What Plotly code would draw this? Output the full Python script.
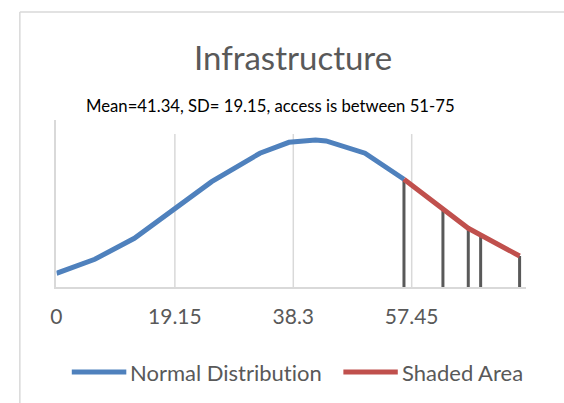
import plotly.graph_objects as go

# Normal curve sampled at the score points (density values)
normal_x = [0, 6.2, 12.6, 19.0, 25.1, 32.9, 37.6, 41.9, 43.6, 49.9, 56.2]
normal_y = [0.00194, 0.00393, 0.00690, 0.01091, 0.01492, 0.01895,
            0.02050, 0.02083, 0.02069, 0.01895, 0.01526]

# Shaded tail region
shade_x = [56.2, 62.5, 66.6, 68.6, 74.9]
shade_y = [0.01526, 0.01115, 0.00832, 0.00737, 0.00439]

tick_vals = [0, 19.15, 38.3, 57.45]
tick_text = ["0", "19.15", "38.3", "57.45"]

title_text = "Infrastructure"
subtitle_text = "Mean=41.34, SD= 19.15, access is between 51-75"
series_names = ["Normal Distribution", "Shaded Area"]

BLUE = "#4F81BD"
RED = "#C0504D"
DROP = "#595959"
GRID = "#D9D9D9"
TEXT = "#595959"
FONT = "Lato"

W, H = 564, 403
x_range = [0, 76]
y_range = [0, 0.02366]
x_dom = [51 / W, (51 + 76 * 6.25) / W]
y_dom = [(H - 287) / H, (H - 120) / H]

fig = go.Figure()

# vertical drop lines under the shaded points
drop_x, drop_y = [], []
for xv, yv in zip(shade_x, shade_y):
    drop_x += [xv, xv, None]
    drop_y += [0, yv, None]
fig.add_trace(go.Scatter(x=drop_x, y=drop_y, mode="lines",
                         line=dict(color=DROP, width=3),
                         showlegend=False, hoverinfo="skip"))

fig.add_trace(go.Scatter(x=normal_x, y=normal_y, mode="lines",
                         name=series_names[0],
                         line=dict(color=BLUE, width=5)))
fig.add_trace(go.Scatter(x=shade_x, y=shade_y, mode="lines",
                         name=series_names[1],
                         line=dict(color=RED, width=5)))

shapes = []
# vertical gridlines at the tick positions
for tv in tick_vals[1:]:
    shapes.append(dict(type="line", xref="x", yref="y domain",
                       x0=tv, x1=tv, y0=0, y1=0.916,
                       line=dict(color=GRID, width=1.5), layer="below"))

# chart-area frame (top and left edges)
fx, fy = 14 / W, (H - 12) / H
shapes.append(dict(type="line", xref="paper", yref="paper",
                   x0=fx, x1=1, y0=fy, y1=fy,
                   line=dict(color=GRID, width=1.5)))
shapes.append(dict(type="line", xref="paper", yref="paper",
                   x0=fx, x1=fx, y0=0, y1=fy,
                   line=dict(color=GRID, width=1.5)))

# legend keys
leg_y = (H - 372) / H
legend_items = [
    (66.5, 121.6, 123, BLUE, series_names[0]),
    (341, 396, 398, RED, series_names[1]),
]
annotations = []
for x0, x1, tx, col, name in legend_items:
    shapes.append(dict(type="line", xref="paper", yref="paper",
                       x0=x0 / W, x1=x1 / W, y0=leg_y, y1=leg_y,
                       line=dict(color=col, width=5)))
    annotations.append(dict(
        text='<span style="font-variant-ligatures:none">' + name + "</span>",
        xref="paper", yref="paper", x=tx / W, y=leg_y,
        xanchor="left", yanchor="middle", showarrow=False,
        font=dict(family=FONT, size=22, color=TEXT)))

annotations.append(dict(text=title_text, xref="paper", yref="paper",
                        x=290 / W, y=(H - 57) / H, xanchor="center",
                        yanchor="middle", showarrow=False,
                        font=dict(family=FONT, size=33, color=TEXT)))
annotations.append(dict(text=subtitle_text, xref="paper", yref="paper",
                        x=267 / W, y=(H - 106) / H, xanchor="center",
                        yanchor="middle", showarrow=False,
                        font=dict(family=FONT, size=16.7, color="#000000")))

fig.update_layout(
    width=W, height=H,
    margin=dict(l=0, r=0, t=0, b=0),
    paper_bgcolor="white", plot_bgcolor="white",
    showlegend=False,
    shapes=shapes,
    annotations=annotations,
    xaxis=dict(domain=x_dom, range=x_range, tickvals=tick_vals,
               ticktext=tick_text, showgrid=False, zeroline=False,
               showline=True, linecolor=GRID, linewidth=1.5,
               ticks="", ticklabelstandoff=10,
               tickfont=dict(family=FONT, size=21, color=TEXT)),
    yaxis=dict(domain=y_dom, range=y_range, showgrid=False,
               zeroline=False, showticklabels=False, ticks="",
               showline=True, linecolor=GRID, linewidth=1.5),
)

page_css = ("document.body.style.margin='0';"
            "document.body.style.overflow='hidden';")
fig.write_html("out.html", config={"displayModeBar": False},
               post_script=page_css)
